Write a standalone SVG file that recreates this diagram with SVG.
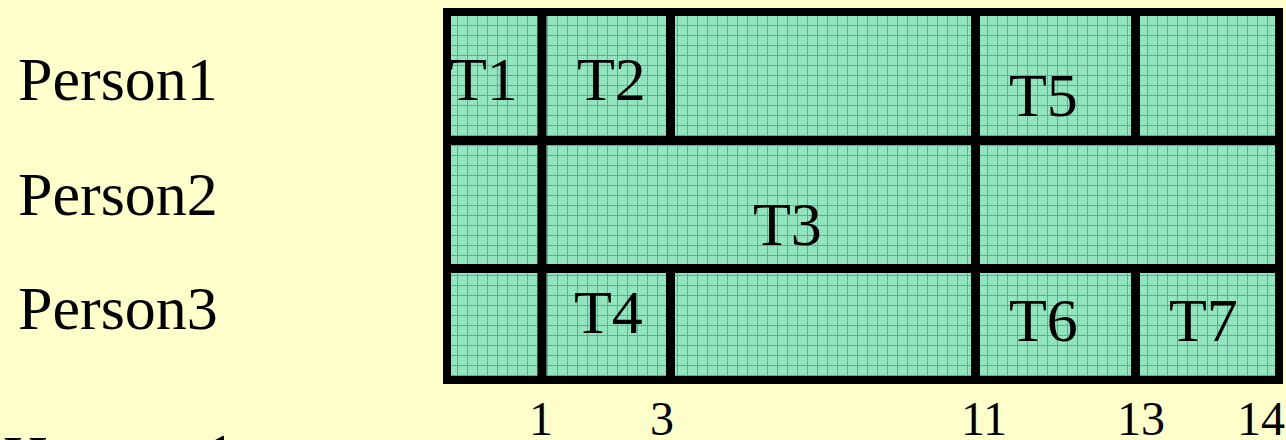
<svg xmlns="http://www.w3.org/2000/svg" width="1286" height="440" viewBox="0 0 1286 440">
<style>
.lbl{font-family:"Liberation Serif","Times New Roman",serif;font-size:62px;fill:#000}
.num{font-family:"Liberation Serif","Times New Roman",serif;font-size:48px;fill:#000;text-anchor:middle}
.ln{stroke:#000;stroke-width:9;fill:none}
</style>
<defs>
<pattern id="dots" width="2" height="2" patternUnits="userSpaceOnUse">
<rect width="2" height="2" fill="#84E4B6"/>
<rect width="1" height="1" fill="#98EBC4"/>
<rect x="1" y="1" width="1" height="1" fill="#98EBC4"/>
</pattern>
<pattern id="grid" x="7" y="5" width="10" height="10" patternUnits="userSpaceOnUse">
<rect width="10" height="10" fill="url(#dots)"/>
<rect width="1" height="10" fill="#2BC88E"/>
<rect width="10" height="1" fill="#2BC88E"/>
</pattern>
</defs>
<rect width="1286" height="440" fill="#FFFFCC"/>
<g id="rows">
<text class="lbl" x="18" y="100">Person1</text>
<text class="lbl" x="18" y="215">Person2</text>
<text class="lbl" x="18" y="329">Person3</text>
<text class="lbl" x="3" y="478">H</text>
<text class="lbl" x="205" y="476">1</text>
</g>
<g id="chart">
<rect x="447" y="12" width="832" height="368" fill="url(#grid)"/>
</g>
<g id="connectors">
<rect x="447" y="12" width="832" height="368" fill="none" stroke="#000" stroke-width="8"/>
<line class="ln" x1="447" y1="140.5" x2="1279" y2="140.5"/>
<line class="ln" x1="447" y1="268.5" x2="1279" y2="268.5"/>
<line class="ln" x1="542" y1="12" x2="542" y2="380"/>
<line class="ln" x1="975.5" y1="12" x2="975.5" y2="380"/>
<line class="ln" x1="670.5" y1="12" x2="670.5" y2="140"/>
<line class="ln" x1="670.5" y1="268" x2="670.5" y2="380"/>
<line class="ln" x1="1135.5" y1="12" x2="1135.5" y2="140"/>
<line class="ln" x1="1135.5" y1="268" x2="1135.5" y2="380"/>
</g>
<g id="T1"><text class="lbl" x="449" y="100">T1</text></g>
<g id="T2"><text class="lbl" x="577" y="100">T2</text></g>
<g id="T3"><text class="lbl" x="753" y="245">T3</text></g>
<g id="T4"><text class="lbl" x="574" y="333">T4</text></g>
<g id="T5"><text class="lbl" x="1009" y="116">T5</text></g>
<g id="T6"><text class="lbl" x="1009" y="341">T6</text></g>
<g id="T7"><text class="lbl" x="1169" y="341">T7</text></g>
<g id="axis">
<text class="num" x="541" y="435">1</text>
<text class="num" x="662" y="435">3</text>
<text class="num" x="984" y="435">11</text>
<text class="num" x="1141" y="435">13</text>
<text class="num" x="1261" y="435">14</text>
</g>
</svg>
